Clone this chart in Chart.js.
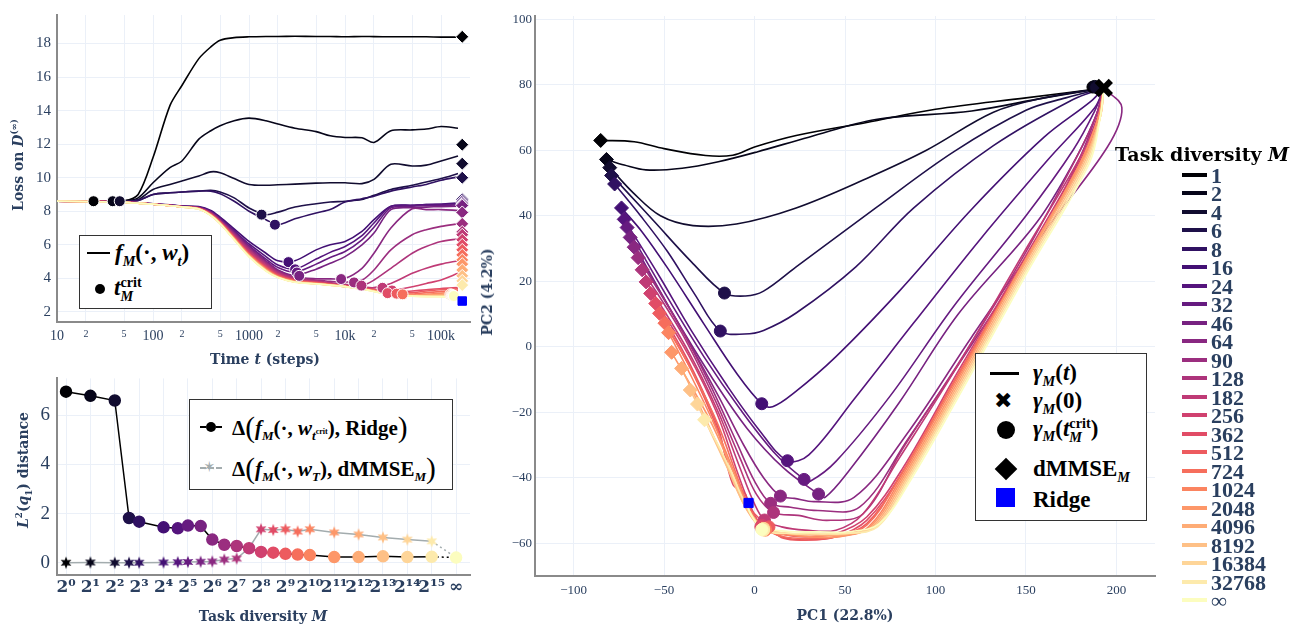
<!DOCTYPE html>
<html>
<head>
<meta charset="utf-8">
<script src="https://cdn.jsdelivr.net/npm/chart.js@4.4.1/dist/chart.umd.min.js"></script>
<style>
body { margin: 0; background: #fff; width: 1304px; height: 631px; position: relative; overflow: hidden; font-family: "Liberation Serif", serif; }
canvas { position: absolute; }
.ttl { position: absolute; white-space: nowrap; font-family: "DejaVu Serif", serif; font-weight: bold; font-size: 14px; color: #2a3f5f; transform: translate(-50%, -50%); }
.rot { transform: translate(-50%, -50%) rotate(-90deg); }
.box { position: absolute; border: 1.5px solid #333; background: #fff; }
.abs { position: absolute; }
.mt { position: absolute; white-space: nowrap; font-family: "Liberation Serif", serif; font-weight: bold; color: #000; transform: translateY(-50%); }
sub, sup { font-size: 62%; line-height: 0; }
.big { font-size: 140%; font-weight: normal; vertical-align: -2px; }
.stk { display: inline-flex; flex-direction: column; vertical-align: middle; font-size: 62%; line-height: 0.95; }
.tdl { position: absolute; left: 1211px; font-family: "Liberation Serif", serif; font-weight: bold; font-size: 22px; color: #2a3f5f; transform: translateY(-50%); line-height: 1; }
.tdb { position: absolute; left: 1182px; width: 25px; height: 4px; }
</style>
</head>
<body>
<canvas id="loss" width="500" height="360" style="left:0;top:0"></canvas>
<canvas id="dist" width="500" height="271" style="left:0;top:360px"></canvas>
<canvas id="pca" width="704" height="631" style="left:500px;top:0"></canvas>

<!-- axis titles -->
<div class="ttl rot" style="left:18px;top:165px">Loss on <i>D</i><sup>(∞)</sup></div>
<div class="ttl" style="left:265px;top:359px">Time <i>t</i> (steps)</div>
<div class="ttl rot" style="left:23px;top:470px"><i>L</i><sup>2</sup>(<i>q</i><sub>1</sub>) distance</div>
<div class="ttl" style="left:263px;top:616px">Task diversity <i>M</i></div>
<div class="ttl rot" style="left:487px;top:292px">PC2 (4.2%)</div>
<div class="ttl" style="left:845px;top:615px">PC1 (22.8%)</div>

<!-- top-left legend -->
<div class="box" style="left:79px;top:235px;width:131px;height:72px">
  <div class="abs" style="left:7px;top:16px;width:23px;height:2px;background:#000"></div>
  <div class="mt" style="left:35px;top:17px;font-size:23px"><i>f</i><sub><i>M</i></sub>(·, <i>w</i><sub><i>t</i></sub>)</div>
  <div class="abs" style="left:15px;top:48px;width:10px;height:10px;border-radius:50%;background:#000"></div>
  <div class="mt" style="left:34px;top:53px;font-size:23px"><i>t</i><span class="stk"><span>crit</span><span><i>M</i></span></span></div>
</div>

<!-- bottom-left legend -->
<div class="box" style="left:189px;top:399px;width:262px;height:89px">
  <div class="abs" style="left:10px;top:26px;width:22px;height:2px;border-top:2px dashed #000"></div>
  <div class="abs" style="left:16px;top:22px;width:10px;height:10px;border-radius:50%;background:#000"></div>
  <div class="mt" style="left:42px;top:27px;font-size:21px">Δ<span class="big">(</span><i>f</i><sub><i>M</i></sub>(·, <i>w</i><sub><i>t</i><sup>crit</sup></sub>), Ridge<span class="big">)</span></div>
  <div class="abs" style="left:10px;top:67px;width:22px;height:2px;border-top:2px dashed #a3acae"></div>
  <div class="abs" style="left:13px;top:57px;font-family:'DejaVu Sans';font-size:15px;color:#a3acae;line-height:20px">✶</div>
  <div class="mt" style="left:42px;top:68px;font-size:21px">Δ<span class="big">(</span><i>f</i><sub><i>M</i></sub>(·, <i>w</i><sub><i>T</i></sub>), dMMSE<sub><i>M</i></sub><span class="big">)</span></div>
</div>

<!-- right inner legend -->
<div class="box" style="left:975px;top:353px;width:170px;height:166px">
  <div class="abs" style="left:14px;top:18px;width:29px;height:3px;background:#000"></div>
  <div class="mt" style="left:57px;top:19px;font-size:23px"><i>γ</i><sub><i>M</i></sub>(<i>t</i>)</div>
  <div class="abs" style="left:18px;top:35px;font-family:'DejaVu Sans';font-size:22px;line-height:24px;color:#000">✖</div>
  <div class="mt" style="left:57px;top:47px;font-size:23px"><i>γ</i><sub><i>M</i></sub>(0)</div>
  <div class="abs" style="left:21px;top:67px;width:18px;height:18px;border-radius:50%;background:#000"></div>
  <div class="mt" style="left:57px;top:76px;font-size:23px"><i>γ</i><sub><i>M</i></sub>(<i>t</i><span class="stk"><span>crit</span><span><i>M</i></span></span>)</div>
  <div class="abs" style="left:22px;top:107px;width:16px;height:16px;background:#000;transform:rotate(45deg)"></div>
  <div class="mt" style="left:57px;top:115px;font-size:23px">dMMSE<sub><i>M</i></sub></div>
  <div class="abs" style="left:20px;top:134px;width:19px;height:19px;background:#0000ff"></div>
  <div class="mt" style="left:57px;top:146px;font-size:23px">Ridge</div>
</div>

<!-- task diversity legend -->
<div class="abs" style="left:1115px;top:143px;font-family:'DejaVu Serif',serif;font-weight:bold;font-size:19px;color:#000;white-space:nowrap">Task diversity <i>M</i></div>
<div id="tdlegend"></div>

<script>
// ── Data ──────────────────────────────────────────────────────────────────────
const M_LABELS = ['1', '2', '4', '6', '8', '16', '24', '32', '46', '64', '90', '128', '182', '256', '362', '512', '724', '1024', '2048', '4096', '8192', '16384', '32768', '∞'];
const M_VALUES = [1, 2, 4, 6, 8, 16, 24, 32, 46, 64, 90, 128, 182, 256, 362, 512, 724, 1024, 2048, 4096, 8192, 16384, 32768, Infinity];
const INF_POS = 16; // where M = ∞ sits on the log2 axis

// Loss on D(∞) over training time, one row per M
const LOSS_T = [10, 30, 50, 70, 100, 150, 200, 300, 400, 500, 700, 1000, 1500, 2000, 3000, 5000, 7000, 10000, 15000, 20000, 30000, 50000, 70000, 100000, 150000];
const LOSS_CURVES = [
    [8.6, 8.6, 8.62, 9.0, 11.2, 14.3, 15.5, 17.1, 17.8, 18.2, 18.35, 18.4, 18.42, 18.42, 18.43, 18.42, 18.42, 18.4, 18.42, 18.41, 18.4, 18.4, 18.4, 18.38, 18.38],
    [8.6, 8.6, 8.62, 8.8, 9.7, 10.6, 11.0, 12.3, 12.8, 13.1, 13.4, 13.55, 13.4, 13.2, 12.95, 12.75, 12.5, 12.4, 12.38, 12.1, 12.8, 12.85, 12.9, 13.05, 12.95],
    [8.6, 8.6, 8.6, 8.7, 9.3, 9.6, 9.8, 10.1, 10.35, 10.3, 9.95, 9.6, 9.55, 9.58, 9.62, 9.68, 9.7, 9.7, 9.65, 9.9, 10.8, 10.7, 10.75, 11.0, 11.3],
    [8.6, 8.6, 8.6, 8.65, 9.0, 9.1, 9.15, 9.2, 9.25, 9.15, 8.8, 8.2, 7.8, 7.95, 8.25, 8.45, 8.55, 8.6, 8.7, 8.95, 9.3, 9.55, 9.75, 9.95, 10.25],
    [8.6, 8.6, 8.6, 8.65, 9.0, 9.1, 9.15, 9.2, 9.2, 9.05, 8.6, 8.0, 7.5, 7.2, 7.55, 7.9, 8.1, 8.55, 8.75, 8.9, 9.2, 9.45, 9.6, 9.85, 10.05],
    [8.6, 8.58, 8.55, 8.5, 8.45, 8.38, 8.32, 8.28, 8.05, 7.65, 6.95, 6.2, 5.5, 5.05, 5.05, 5.7, 6.0, 6.2, 6.8, 7.5, 8.3, 8.36, 8.4, 8.42, 8.5],
    [8.6, 8.58, 8.55, 8.5, 8.44, 8.37, 8.3, 8.25, 8.0, 7.6, 6.85, 6.05, 5.3, 4.8, 4.55, 5.15, 5.55, 5.9, 6.55, 7.3, 8.28, 8.35, 8.4, 8.42, 8.45],
    [8.6, 8.58, 8.55, 8.5, 8.44, 8.36, 8.3, 8.24, 7.98, 7.55, 6.8, 5.95, 5.15, 4.65, 4.38, 4.85, 5.25, 5.6, 6.3, 7.05, 8.2, 8.3, 8.33, 8.35, 8.38],
    [8.6, 8.58, 8.55, 8.5, 8.43, 8.36, 8.29, 8.22, 7.95, 7.52, 6.75, 5.9, 5.05, 4.5, 4.18, 4.55, 4.9, 5.3, 6.0, 6.7, 8.1, 8.22, 8.25, 8.28, 8.3],
    [8.6, 8.58, 8.55, 8.5, 8.43, 8.35, 8.28, 8.2, 7.93, 7.48, 6.7, 5.82, 4.98, 4.45, 4.1, 3.98, 3.97, 4.0, 4.6, 5.5, 7.0, 8.15, 8.1, 8.1, 8.05],
    [8.6, 8.58, 8.55, 8.5, 8.42, 8.35, 8.28, 8.2, 7.9, 7.45, 6.65, 5.75, 4.92, 4.4, 4.05, 3.9, 3.82, 3.78, 3.9, 4.5, 5.7, 6.6, 6.9, 7.1, 7.25],
    [8.6, 8.58, 8.55, 8.5, 8.42, 8.34, 8.27, 8.19, 7.88, 7.42, 6.6, 5.7, 4.85, 4.35, 4.0, 3.85, 3.75, 3.65, 3.57, 3.9, 4.6, 5.5, 5.9, 6.2, 6.35],
    [8.6, 8.58, 8.55, 8.5, 8.42, 8.34, 8.27, 8.18, 7.86, 7.4, 6.55, 5.62, 4.78, 4.3, 3.95, 3.8, 3.7, 3.6, 3.5, 3.45, 3.7, 4.3, 4.6, 4.85, 5.05],
    [8.6, 8.58, 8.54, 8.49, 8.42, 8.34, 8.27, 8.18, 7.84, 7.38, 6.5, 5.55, 4.72, 4.25, 3.92, 3.78, 3.68, 3.56, 3.45, 3.36, 3.3, 3.5, 3.7, 3.9, 4.3],
    [8.6, 8.58, 8.54, 8.49, 8.42, 8.34, 8.26, 8.17, 7.83, 7.36, 6.47, 5.5, 4.67, 4.2, 3.88, 3.75, 3.66, 3.55, 3.42, 3.32, 3.15, 3.25, 3.32, 3.4, 3.45],
    [8.6, 8.58, 8.54, 8.49, 8.42, 8.33, 8.26, 8.16, 7.81, 7.34, 6.44, 5.46, 4.62, 4.16, 3.86, 3.73, 3.64, 3.54, 3.41, 3.3, 3.12, 3.15, 3.25, 3.32, 3.38],
    [8.6, 8.57, 8.54, 8.49, 8.42, 8.33, 8.26, 8.16, 7.8, 7.32, 6.41, 5.43, 4.58, 4.13, 3.84, 3.71, 3.63, 3.53, 3.4, 3.28, 3.08, 3.06, 3.15, 3.22, 3.3],
    [8.6, 8.57, 8.54, 8.48, 8.42, 8.33, 8.26, 8.15, 7.79, 7.3, 6.39, 5.4, 4.55, 4.11, 3.82, 3.7, 3.62, 3.52, 3.39, 3.27, 3.07, 3.0, 3.05, 3.12, 3.2],
    [8.6, 8.57, 8.53, 8.48, 8.42, 8.33, 8.26, 8.15, 7.78, 7.29, 6.37, 5.37, 4.52, 4.09, 3.8, 3.69, 3.61, 3.52, 3.38, 3.26, 3.06, 2.98, 3.0, 3.05, 3.1],
    [8.6, 8.57, 8.53, 8.48, 8.42, 8.33, 8.26, 8.14, 7.77, 7.28, 6.35, 5.35, 4.5, 4.08, 3.79, 3.68, 3.61, 3.51, 3.38, 3.25, 3.05, 2.97, 2.98, 3.0, 3.02],
    [8.6, 8.57, 8.53, 8.48, 8.42, 8.33, 8.26, 8.14, 7.76, 7.27, 6.33, 5.33, 4.48, 4.07, 3.78, 3.68, 3.6, 3.51, 3.37, 3.24, 3.04, 2.96, 2.95, 2.96, 2.97],
    [8.6, 8.57, 8.53, 8.48, 8.42, 8.33, 8.26, 8.13, 7.75, 7.27, 6.32, 5.31, 4.46, 4.06, 3.78, 3.67, 3.6, 3.51, 3.37, 3.23, 3.03, 2.95, 2.93, 2.93, 2.93],
    [8.6, 8.57, 8.53, 8.48, 8.42, 8.33, 8.26, 8.13, 7.75, 7.26, 6.31, 5.3, 4.45, 4.05, 3.77, 3.67, 3.6, 3.51, 3.36, 3.22, 3.02, 2.94, 2.92, 2.92, 2.91],
    [8.6, 8.57, 8.53, 8.48, 8.42, 8.33, 8.26, 8.13, 7.74, 7.26, 6.3, 5.3, 4.44, 4.05, 3.77, 3.67, 3.6, 3.51, 3.36, 3.22, 3.02, 2.94, 2.91, 2.9, 2.89]
];
const T_CRIT = [24, 38, 45, 1350, 1860, 2570, 3020, 3150, 3330, 9100, 12400, 14800, 24500, 30800, 27700, 34400, 39700, 125000, 128000, 130000, 132000, 134000, 135000, 136000];
const LOSS_CRIT = [8.6, 8.6, 8.6, 7.8, 7.2, 4.97, 4.54, 4.35, 4.15, 3.96, 3.76, 3.57, 3.44, 3.28, 3.12, 3.09, 3.05, 3.05, 3.02, 3.0, 2.98, 2.97, 2.96, 2.95];
const DMMSE_T = 166000;
const DMMSE_LOSS = [18.4, 11.97, 10.84, 10.0, 8.71, 8.6, 8.5, 8.42, 8.34, 7.93, 7.25, 6.77, 6.6, 6.3, 6.0, 5.7, 5.4, 5.1, 4.85, 4.5, 4.15, 3.85, 3.6, null];
const RIDGE_LOSS = 2.65;
const LOSS_X_TICKS = [10, 20, 50, 100, 200, 500, 1000, 2000, 5000, 10000, 20000, 50000, 100000];
const LOSS_X_LABELS = ['10', '2', '5', '100', '2', '5', '1000', '2', '5', '10k', '2', '5', '100k'];
const LOSS_Y_TICKS = [2, 4, 6, 8, 10, 12, 14, 16, 18];

// L2(q1) distances per M
const RIDGE_DIST = [6.96, 6.79, 6.6, 1.82, 1.67, 1.44, 1.4, 1.51, 1.49, 0.94, 0.73, 0.68, 0.59, 0.44, 0.41, 0.36, 0.33, 0.31, 0.23, 0.23, 0.26, 0.23, 0.24, 0.21];
const DMMSE_DIST = [0.0, 0.01, 0.0, 0.0, 0.0, 0.01, 0.02, 0.03, 0.04, 0.05, 0.13, 0.17, 0.6, 1.36, 1.33, 1.36, 1.27, 1.36, 1.23, 1.15, 1.03, 0.94, 0.87, 0.21];
const DIST_TICK_LABELS = ['2⁰', '2¹', '2²', '2³', '2⁴', '2⁵', '2⁶', '2⁷', '2⁸', '2⁹', '2¹⁰', '2¹¹', '2¹²', '2¹³', '2¹⁴', '2¹⁵', '∞'];
const DIST_Y_TICKS = [0, 2, 4, 6];

// PCA trajectories gamma_M(t), one path per M
const PC_INIT = [193, 79];
const PC_PATHS = [
    [[193, 79], [150, 76], [100, 72.5], [62, 68.5], [23, 64.5], [0, 61], [-12, 58.5], [-27, 58.4], [-50, 60.5], [-66.5, 62.6], [-85, 63]],
    [[193, 79], [160, 76], [120, 72], [67, 69.4], [30, 64], [1.4, 59.5], [-20, 56.5], [-40, 54.5], [-60, 54], [-72, 55.5], [-81.8, 57.2]],
    [[193, 79], [160, 76], [132, 71.6], [95, 60], [62, 51.4], [23, 42.4], [-10, 37.5], [-34, 37], [-52, 40], [-67, 47], [-80, 54.7]],
    [[193, 79], [172, 76], [150, 72.2], [110, 59.5], [67, 42.4], [23, 24.4], [5, 17], [-5, 15.5], [-16.6, 16.4], [-35, 26], [-55, 38], [-70, 47], [-79, 52.3]],
    [[193, 79], [176, 75.5], [132, 61.4], [88, 42.4], [56, 24.4], [23, 10.3], [5, 5], [-5.5, 3.9], [-18.9, 4.8], [-33, 16], [-48, 29], [-63, 40], [-77.3, 49.7]],
    [[193, 79], [186, 75], [160, 64], [120, 42], [80, 17], [45, -3], [22, -14], [10, -18.3], [4, -17.4], [-10, -8], [-28, 7], [-48, 24], [-62, 35], [-73.5, 42.4]],
    [[193, 79], [188, 73], [162, 57], [125, 33], [88, 7.3], [55, -16], [30, -33], [18.2, -34.8], [2, -25], [-15, -12], [-35, 5], [-52, 21], [-72, 38.9]],
    [[193, 79], [188, 72], [176, 60], [150, 40], [110, 12.3], [75, -15], [45, -35], [31, -41], [27.4, -40.5], [12, -33], [-8, -19], [-28, -3], [-48, 15], [-70.4, 36.4]],
    [[193, 79], [189, 71], [178, 58], [156, 38], [112.6, 10], [80, -17], [52, -38], [39, -46], [35.4, -45], [16, -37], [-4, -25], [-24, -9], [-45, 10], [-68.7, 33.4]],
    [[193, 79], [203, 73], [195, 61], [160, 35], [120, 3], [85, -26], [55, -46], [33, -47.3], [22, -46.3], [14.3, -45.6], [5, -40], [-6, -30], [-20, -15], [-40, 5], [-66.5, 30.4]],
    [[193, 79], [189, 71], [180, 58], [155, 31], [118, -1], [85, -28], [58, -49], [35, -50], [20, -49], [8.9, -47.8], [0, -41], [-10, -29], [-25, -11], [-42, 7], [-64.3, 27.2]],
    [[193, 79], [189, 71], [179, 59], [150, 29], [115, -3], [82, -31], [60, -51], [40, -53], [24, -51.5], [10.5, -50.6], [1, -45], [-8, -34], [-22, -16], [-40, 4], [-62.1, 23.5]],
    [[193, 79], [190, 71], [180, 58], [148, 28], [112, -6], [80, -34], [60, -51], [45, -56], [28, -56], [15, -55], [5.5, -52.9], [0, -48], [-8, -37], [-20, -20], [-38, 0], [-59.9, 19.8]],
    [[193, 79], [190, 70], [180, 57], [147, 25], [112, -8], [82, -37], [62, -52], [45, -57], [28, -58], [14, -57], [4, -54.5], [-2, -49], [-9, -39], [-21, -20], [-37, -2], [-57.4, 16.3]],
    [[193, 79], [190, 70], [180, 56], [147, 24], [112, -9], [82, -38], [62, -53], [45, -58], [28, -59], [15, -58], [5, -55], [-3, -50], [-5, -45], [-12, -42], [-20, -25], [-36, -5], [-54.6, 13.2]],
    [[193, 79], [190, 70], [180, 56], [146, 23], [111, -10], [81, -39], [62, -54], [45, -58], [30, -59], [16, -58.5], [8, -55], [0, -51], [-6, -47], [-9, -43], [-12, -41], [-20, -26], [-35, -7], [-52.5, 10.2]],
    [[193, 79], [190, 70], [180, 55], [145, 22], [110, -11], [80, -40], [62, -54.5], [45, -58], [30, -58.5], [16, -58], [6, -55.5], [-1, -51], [-8, -42], [-20, -24], [-34, -8], [-49.5, 7.2]],
    [[193, 79], [190, 70], [179, 55], [144, 21], [110, -12], [80, -41], [63, -55], [46, -58], [30, -58], [17, -57.5], [6, -56], [-2, -51], [-10, -40], [-22, -24], [-35, -9], [-47.5, 4.3]],
    [[193, 79], [190, 70], [180, 56], [145, 22], [111, -12], [81, -41], [64, -55], [47, -58], [31, -58], [17, -57], [5, -55.5], [-3, -50], [-12, -38], [-25, -22], [-45.8, -1.7]],
    [[193, 79], [191, 70], [181, 56], [146, 22], [112, -12], [82, -41], [65, -55], [48, -57.5], [32, -57.5], [18, -57], [5, -55.8], [-4, -50], [-14, -38], [-27, -22], [-40.3, -6.6]],
    [[193, 79], [191, 70], [182, 56], [147, 22], [113, -12], [83, -41], [66, -55], [49, -57], [33, -57], [19, -57], [5, -55.5], [-5, -49], [-15, -37], [-26, -24], [-35.5, -13.2]],
    [[193, 79], [191, 70], [183, 56], [148, 22], [114, -12], [84, -41], [67, -55], [50, -57], [34, -57], [20, -57], [5, -55.5], [-5, -48], [-15, -36], [-24, -26], [-31.5, -17.5]],
    [[193, 79], [191, 70], [184, 56], [149, 22], [115, -12], [85, -41], [68, -55], [51, -57], [35, -57], [21, -57], [5, -56], [-5, -48], [-13, -38], [-21, -29], [-27.6, -22.3]],
    [[193, 79], [191, 70], [185, 56], [150, 22], [116, -12], [86, -41], [69, -54], [52, -56.5], [36, -56.5], [22, -56.5], [10, -56], [4, -55.8], [0, -53], [-3, -50], [-3.3, -47.7]]
];
const PC_CRIT = [[187, 79.3], [188, 79.5], [189, 79.2], [-16.6, 16.4], [-18.9, 4.8], [4, -17.4], [18.2, -34.8], [27.4, -40.5], [35.4, -45], [14.3, -45.6], [8.9, -47.8], [10.5, -50.6], [5.5, -52.9], [4, -54.5], [3.5, -55], [8, -55], [6, -55.5], [6, -56], [5, -55.5], [5, -55.8], [5, -55.5], [5, -55.5], [5, -56], [4, -55.8]];
const PC_DMMSE = [[-85, 63], [-81.8, 57.2], [-80, 54.7], [-79, 52.3], [-77.3, 49.7], [-73.5, 42.4], [-72, 38.9], [-70.4, 36.4], [-68.7, 33.4], [-66.5, 30.4], [-64.3, 27.2], [-62.1, 23.5], [-59.9, 19.8], [-57.4, 16.3], [-54.6, 13.2], [-52.5, 10.2], [-49.5, 7.2], [-47.5, 4.3], [-45.8, -1.7], [-40.3, -6.6], [-35.5, -13.2], [-31.5, -17.5], [-27.6, -22.3], null];
const PC_RIDGE = [-3.3, -47.7];
const PC_X_TICKS = [-100, -50, 0, 50, 100, 150, 200];
const PC_Y_TICKS = [-60, -40, -20, 0, 20, 40, 60, 80, 100];

// ── Style helpers ─────────────────────────────────────────────────────────────
const MAGMA = ['#000004', '#07061c', '#140e36', '#251255', '#3b0f70', '#51127c', '#641a80', '#782281', '#8c2981', '#a1307e',
               '#b73779', '#ca3e72', '#de4968', '#ed5a5f', '#f7705c', '#fc8961', '#fe9f6d', '#feb77e', '#fecf92', '#fde7a9', '#fcfdbf'];
function magma(f) {
    const p = f * (MAGMA.length - 1);
    const i = Math.min(Math.floor(p), MAGMA.length - 2);
    const u = p - i;
    const a = parseInt(MAGMA[i].slice(1), 16), b = parseInt(MAGMA[i + 1].slice(1), 16);
    const ch = s => Math.round(((a >> s) & 255) * (1 - u) + ((b >> s) & 255) * u);
    return `rgb(${ch(16)},${ch(8)},${ch(0)})`;
}
const COLORS = M_LABELS.map((_, i) => magma(i / (M_LABELS.length - 1)));

const TXT = '#2a3f5f';
const GRID = '#ebf0f8';
const AXIS = '#8a8a8a';
Chart.defaults.font.family = '"Liberation Serif", serif';
Chart.defaults.color = TXT;
Chart.defaults.animation = false;

function setTicks(values) {
    return scale => { scale.ticks = values.map(v => ({ value: v })); };
}
const noLegend = { legend: { display: false }, tooltip: { enabled: false } };

// filled six-point star used as point style
function makeStar(color) {
    const c = document.createElement('canvas');
    c.width = c.height = 14;
    const g = c.getContext('2d');
    g.beginPath();
    for (let k = 0; k < 12; k++) {
        const r = k % 2 ? 2.8 : 6.2;
        const a = -Math.PI / 2 + k * Math.PI / 6;
        g.lineTo(7 + r * Math.cos(a), 7 + r * Math.sin(a));
    }
    g.closePath();
    g.fillStyle = color;
    g.fill();
    return c;
}

// ── Task diversity legend ─────────────────────────────────────────────────────
const td = document.getElementById('tdlegend');
M_LABELS.forEach((lab, i) => {
    const y = 175 + i * 18.48;
    td.insertAdjacentHTML('beforeend',
        `<div class="tdb" style="top:${y - 2}px;background:${COLORS[i]}"></div>` +
        `<div class="tdl" style="top:${y + 1}px">${lab}</div>`);
});

// ── Loss vs time ──────────────────────────────────────────────────────────────
const lossSets = LOSS_CURVES.map((row, i) => ({
    data: LOSS_T.map((t, k) => ({ x: t, y: row[k] })),
    showLine: true, borderColor: COLORS[i], borderWidth: 1.6, pointRadius: 0, tension: 0.3, order: 100 - i
}));
lossSets.push({
    data: T_CRIT.map((t, i) => ({ x: t, y: LOSS_CRIT[i] })),
    pointBackgroundColor: COLORS, pointBorderColor: '#fff', pointBorderWidth: 1, pointRadius: 5.5, order: 2
});
lossSets.push({
    data: DMMSE_LOSS.map(v => ({ x: DMMSE_T, y: v })),
    pointStyle: 'rectRot', pointBackgroundColor: COLORS, pointBorderColor: '#fff', pointBorderWidth: 1, pointRadius: 6.5, order: 1
});
lossSets.push({
    data: [{ x: DMMSE_T, y: RIDGE_LOSS }],
    pointStyle: 'rect', backgroundColor: '#0000ff', borderColor: '#0000ff', pointRadius: 6, order: 0
});

new Chart(document.getElementById('loss'), {
    type: 'scatter',
    data: { datasets: lossSets },
    options: {
        responsive: false,
        layout: { padding: { left: 0, right: 30, top: 8, bottom: 0 } },
        plugins: noLegend,
        scales: {
            x: {
                type: 'logarithmic', min: 10, max: 200000,
                afterBuildTicks: setTicks(LOSS_X_TICKS),
                afterFit: s => { s.height = 38; },
                grid: { color: GRID, drawTicks: false },
                border: { color: AXIS, width: 2 },
                ticks: {
                    autoSkip: false, maxRotation: 0, padding: 6,
                    callback: (v, i) => LOSS_X_LABELS[i],
                    font: ctx => ({ size: LOSS_X_LABELS[ctx.index] && LOSS_X_LABELS[ctx.index].length === 1 ? 10 : 14 })
                }
            },
            y: {
                min: 1.4, max: 19.7,
                afterBuildTicks: setTicks(LOSS_Y_TICKS),
                afterFit: s => { s.width = 57; },
                grid: { color: GRID, drawTicks: false },
                border: { color: AXIS, width: 2 },
                ticks: { padding: 6, font: { size: 15 } }
            }
        }
    }
});

// ── Distance vs task diversity ────────────────────────────────────────────────
const mPos = M_VALUES.map(m => isFinite(m) ? Math.log2(m) : INF_POS);
const last = M_VALUES.length - 2;
const dotted = { borderDash: ctx => ctx.p0DataIndex === last ? [2, 3] : undefined };

new Chart(document.getElementById('dist'), {
    type: 'scatter',
    data: {
        datasets: [
            {
                data: mPos.map((x, i) => ({ x, y: RIDGE_DIST[i] })),
                showLine: true, borderColor: '#000', borderWidth: 1.5, segment: dotted,
                pointBackgroundColor: COLORS, pointBorderColor: COLORS, pointRadius: 5.5, order: 1
            },
            {
                data: mPos.map((x, i) => ({ x, y: DMMSE_DIST[i] })),
                showLine: true, borderColor: '#a3acae', borderWidth: 1.5, segment: dotted,
                pointStyle: COLORS.map(makeStar), pointRadius: 6, order: 2
            }
        ]
    },
    options: {
        responsive: false,
        layout: { padding: { left: 0, right: 30, top: 7, bottom: 0 } },
        plugins: noLegend,
        scales: {
            x: {
                min: -0.37, max: 16.57,
                afterBuildTicks: setTicks(DIST_TICK_LABELS.map((_, i) => i)),
                afterFit: s => { s.height = 56; },
                grid: { color: GRID, drawTicks: false },
                border: { color: AXIS, width: 2 },
                ticks: {
                    autoSkip: false, maxRotation: 0, padding: 2,
                    callback: v => DIST_TICK_LABELS[v],
                    font: { family: '"DejaVu Serif", serif', size: 17, weight: 'bold' }
                }
            },
            y: {
                min: -0.5, max: 7.5,
                afterBuildTicks: setTicks(DIST_Y_TICKS),
                afterFit: s => { s.width = 57; },
                grid: { color: GRID, drawTicks: false },
                border: { color: AXIS, width: 2 },
                ticks: { padding: 7, font: { size: 19 } }
            }
        }
    }
});

// ── PCA trajectories ──────────────────────────────────────────────────────────
const pcaSets = PC_PATHS.map((path, i) => ({
    data: path.map(([x, y]) => ({ x, y })),
    showLine: true, borderColor: COLORS[i], borderWidth: 1.6, pointRadius: 0, tension: 0.35, order: 100 - i
}));
const dIdx = PC_DMMSE.map((p, i) => i).filter(i => PC_DMMSE[i]);
pcaSets.push({
    data: dIdx.map(i => ({ x: PC_DMMSE[i][0], y: PC_DMMSE[i][1] })),
    pointStyle: 'rectRot', pointBackgroundColor: dIdx.map(i => COLORS[i]), pointBorderColor: dIdx.map(i => COLORS[i]), pointRadius: 7, order: 3
});
pcaSets.push({
    data: PC_CRIT.map(([x, y]) => ({ x, y })),
    pointBackgroundColor: COLORS, pointBorderColor: COLORS, pointRadius: 6, order: 2
});
pcaSets.push({
    data: [{ x: PC_INIT[0], y: PC_INIT[1] }],
    pointStyle: 'crossRot', borderColor: '#000', pointBorderWidth: 6, pointRadius: 10, order: 1
});
pcaSets.push({
    data: [{ x: PC_RIDGE[0], y: PC_RIDGE[1] }],
    pointStyle: 'rect', backgroundColor: '#0000ff', borderColor: '#0000ff', pointRadius: 6.5, order: 0
});

new Chart(document.getElementById('pca'), {
    type: 'scatter',
    data: { datasets: pcaSets },
    options: {
        responsive: false,
        layout: { padding: { left: 0, right: 49, top: 5, bottom: 0 } },
        plugins: noLegend,
        scales: {
            x: {
                min: -121.3, max: 221.3,
                afterBuildTicks: setTicks(PC_X_TICKS),
                afterFit: s => { s.height = 55; },
                grid: { color: GRID, drawTicks: false },
                border: { color: AXIS, width: 2 },
                ticks: { padding: 7, font: { size: 13 }, callback: v => String(v).replace('-', '\u2212') }
            },
            y: {
                min: -70, max: 101,
                afterBuildTicks: setTicks(PC_Y_TICKS),
                afterFit: s => { s.width = 35; },
                grid: { color: GRID, drawTicks: false },
                border: { color: AXIS, width: 2 },
                ticks: { padding: 3, font: { size: 13 }, callback: v => String(v).replace('-', '\u2212') }
            }
        }
    }
});
</script>
</body>
</html>
